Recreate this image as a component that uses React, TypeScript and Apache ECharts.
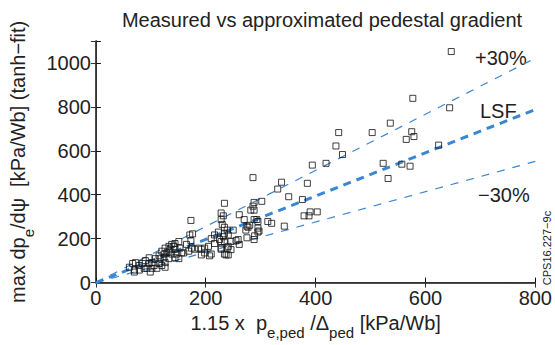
import React, { useEffect, useRef } from "react";
import * as echarts from "echarts";

const titleText = "Measured vs approximated pedestal gradient";
const xTicks = [0, 200, 400, 600, 800];
const yTicks = [0, 200, 400, 600, 800, 1000];

// measured points [x, y]
const measured: [number, number][] = [
  [647, 1052], [577, 839], [644, 796], [575, 687], [565, 652], [579, 665], [624, 626],
  [557, 539], [572, 530], [536, 726], [442, 683], [503, 683], [437, 622], [449, 583],
  [394, 535], [419, 543], [523, 543], [532, 474], [286, 478], [338, 457], [385, 452],
  [331, 426], [351, 391], [376, 378], [234, 361], [288, 365], [302, 370], [390, 322],
  [379, 304], [388, 304], [403, 322], [261, 309], [282, 330], [288, 330], [286, 348],
  [293, 287], [295, 278], [313, 278], [320, 270], [343, 257], [250, 239], [273, 239],
  [295, 248], [295, 230], [289, 213], [275, 204], [275, 257], [288, 196], [261, 174],
  [255, 191], [239, 157], [237, 126], [228, 317], [232, 304], [228, 287], [230, 265],
  [234, 252], [280, 261], [297, 235], [246, 150], [228, 187], [232, 209], [234, 222],
  [228, 152], [173, 283], [176, 222], [173, 191], [239, 239], [241, 217], [223, 230],
  [216, 217], [210, 200], [225, 196], [234, 187], [241, 165], [216, 178], [205, 165],
  [198, 157], [192, 152], [187, 157], [180, 152], [198, 135], [210, 130], [207, 122],
  [192, 126], [228, 157], [234, 130], [241, 126], [246, 187], [259, 196], [277, 252],
  [270, 287], [288, 287], [171, 217], [165, 174], [160, 135], [169, 143], [174, 157],
  [151, 187], [144, 178], [138, 174], [133, 165], [126, 157], [135, 152], [144, 152],
  [153, 157], [156, 135], [147, 130], [138, 130], [129, 135], [120, 143], [115, 122],
  [124, 113], [133, 109], [144, 113], [151, 109], [108, 109], [102, 91], [97, 87],
  [106, 78], [115, 87], [120, 78], [126, 91], [97, 113], [90, 100], [85, 87], [79, 78],
  [72, 91], [67, 87], [61, 70], [70, 57], [79, 57], [88, 65], [93, 65], [102, 65],
  [111, 65], [126, 70], [117, 109], [70, 48], [99, 48], [124, 130], [133, 143], [142, 165],
];

const lsfLine: [number, number][] = [[0, 0], [800, 788]];
const plus30Line: [number, number][] = [[0, 0], [800, 1022]];
const minus30Line: [number, number][] = [[0, 0], [800, 552]];

const FONT = "Liberation Sans, Arial, Helvetica, sans-serif";
const BLUE = "#3b86d2";
const TXT = "#222";

export default function App() {
  const ref = useRef<HTMLDivElement>(null);
  useEffect(() => {
    document.body.style.margin = "0";
    if (!ref.current) return;
    const chart = echarts.init(ref.current, undefined, { renderer: "svg" });
    const baseX = {
      type: "value" as const,
      min: xTicks[0],
      max: xTicks[xTicks.length - 1],
      interval: 200,
      splitLine: { show: false },
    };
    const baseY = {
      type: "value" as const,
      min: 0,
      max: 1100,
      interval: 200,
      splitLine: { show: false },
    };
    chart.setOption({
      animation: false,
      backgroundColor: "#fff",
      textStyle: { fontFamily: FONT },
      title: {
        text: titleText,
        left: 317,
        top: 5,
        textAlign: "center",
        textStyle: { fontFamily: FONT, fontSize: 20, fontWeight: "normal", color: TXT },
      },
      grid: { left: 93, right: 17, top: 41, bottom: 52, containLabel: false },
      xAxis: [
        {
          ...baseX,
          position: "bottom",
          axisLine: { lineStyle: { color: "#111", width: 1.5 } },
          axisTick: { inside: true, length: 5, lineStyle: { color: "#111" } },
          axisLabel: { fontSize: 20, color: TXT, margin: 5, fontFamily: FONT },
          name: "{m|1.15 x  p}{s|e,ped}{m| /Δ}{s|ped}{m| [kPa/Wb]}",
          nameLocation: "middle",
          nameGap: 12,
          nameTextStyle: {
            rich: {
              m: { fontSize: 20, color: TXT, fontFamily: FONT },
              s: { fontSize: 15, color: TXT, fontFamily: FONT, padding: [20, 0, 0, 0] },
            },
          },
        },
        {
          ...baseX,
          position: "top",
          axisLine: { lineStyle: { color: "#333", width: 1 } },
          axisTick: { inside: true, length: 5, lineStyle: { color: "#333" } },
          axisLabel: { show: false },
        },
      ],
      yAxis: [
        {
          ...baseY,
          position: "left",
          axisLine: { lineStyle: { color: "#111", width: 1.5 } },
          axisTick: { inside: true, length: 5, lineStyle: { color: "#111" } },
          axisLabel: {
            fontSize: 20,
            color: TXT,
            margin: 5,
            fontFamily: FONT,
            formatter: (v: number) => (yTicks.includes(v) ? String(v) : ""),
          },
          name: "{m|max dp}{s|e}{m|/dψ  [kPa/Wb] (tanh−fit)}",
          nameLocation: "middle",
          nameGap: 54,
          nameTextStyle: {
            rich: {
              m: { fontSize: 20, color: TXT, fontFamily: FONT },
              s: { fontSize: 15, color: TXT, fontFamily: FONT, padding: [20, 0, 0, 0] },
            },
          },
        },
        {
          ...baseY,
          position: "right",
          axisLine: { lineStyle: { color: "#333", width: 1 } },
          axisTick: { inside: true, length: 5, lineStyle: { color: "#333" } },
          axisLabel: { show: false },
        },
      ],
      graphic: [
        { type: "text", left: 475, top: 48, style: { text: "+30%", font: `20px ${FONT}`, fill: TXT } },
        { type: "text", left: 480, top: 101, style: { text: "LSF", font: `20px ${FONT}`, fill: TXT } },
        { type: "text", left: 478, top: 185, style: { text: "−30%", font: `20px ${FONT}`, fill: TXT } },
        {
          type: "text",
          x: 547,
          y: 248,
          rotation: Math.PI / 2,
          style: {
            text: "CPS16.227−9c",
            font: `11px ${FONT}`,
            fill: TXT,
            align: "center",
            verticalAlign: "middle",
          },
        },
      ],
      series: [
        {
          type: "line",
          data: plus30Line,
          showSymbol: false,
          symbol: "none",
          lineStyle: { color: BLUE, width: 1.2, type: [8, 8] },
          z: 1,
        },
        {
          type: "line",
          data: minus30Line,
          showSymbol: false,
          symbol: "none",
          lineStyle: { color: BLUE, width: 1.2, type: [8, 8] },
          z: 1,
        },
        {
          type: "line",
          data: lsfLine,
          showSymbol: false,
          symbol: "none",
          lineStyle: { color: BLUE, width: 3, type: [8, 6] },
          z: 1,
        },
        {
          type: "scatter",
          data: measured,
          symbol: "rect",
          symbolSize: 6,
          itemStyle: { color: "rgba(0,0,0,0)", borderColor: "#111", borderWidth: 1 },
          z: 2,
        },
      ],
    });
    return () => chart.dispose();
  }, []);
  return <div ref={ref} style={{ width: 555, height: 345 }} />;
}
